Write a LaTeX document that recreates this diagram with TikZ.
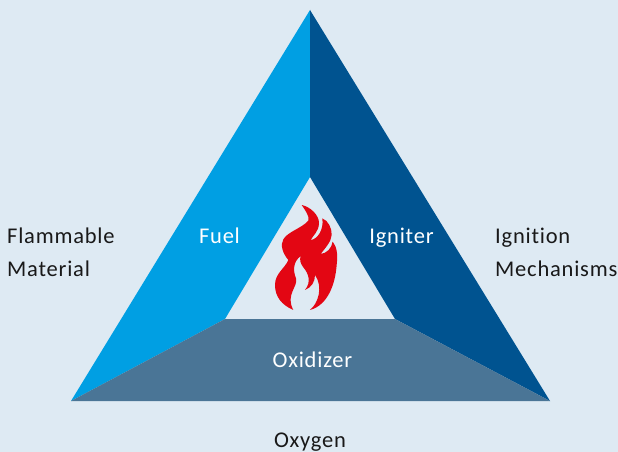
\documentclass[tikz,border=0pt]{standalone}
\usepackage{fontspec}
\setmainfont[LetterSpace=3.5,Ligatures=NoCommon]{Carlito}
\definecolor{bgc}{HTML}{DEEAF3}
\definecolor{fuelc}{HTML}{009FE3}
\definecolor{ignc}{HTML}{005390}
\definecolor{oxc}{HTML}{4A7596}
\definecolor{flamec}{HTML}{E30613}
\tikzset{lab/.style={font=\fontsize{22.5}{22.5}\selectfont,text=black!90,anchor=base west,inner sep=0pt},
wlab/.style={font=\fontsize{22.5}{22.5}\selectfont,text=white,anchor=base,inner sep=0pt}}
\begin{document}
\begin{tikzpicture}[x=1pt,y=-1pt]
\useasboundingbox (0,0) rectangle (618,452);
\fill[bgc] (0,0) rectangle (618,452);
\coordinate (T) at (310,10);
\coordinate (L) at (71,401);
\coordinate (R) at (550,401);
\coordinate (IT) at (310,177);
\coordinate (IL) at (225,319);
\coordinate (IR) at (395,319);
\fill[fuelc] (T)--(IT)--(IL)--(L)--cycle;
\fill[ignc] (T)--(R)--(IR)--(IT)--cycle;
\fill[oxc] (L)--(IL)--(IR)--(R)--cycle;
\begin{scope}[shift={(260,190)},x=0.3333pt,y=-0.3333pt]
\fill[flamec] (125,45) .. controls (150,50) and (178,75) .. (177,100)
 .. controls (176,125) and (160,135) .. (152,150)
 .. controls (172,148) and (192,120) .. (187,85)
 .. controls (205,92) and (216,115) .. (215,135)
 .. controls (214,155) and (195,175) .. (182,192)
 .. controls (200,190) and (215,175) .. (218,155)
 .. controls (230,170) and (234,190) .. (230,225)
 .. controls (226,280) and (205,345) .. (150,360)
 .. controls (175,340) and (190,290) .. (165,255)
 .. controls (165,275) and (155,292) .. (135,300)
 .. controls (155,275) and (145,250) .. (130,232)
 .. controls (122,222) and (118,210) .. (122,198)
 .. controls (100,215) and (98,240) .. (108,265)
 .. controls (115,290) and (75,315) .. (100,360)
 .. controls (65,345) and (45,320) .. (45,285)
 .. controls (45,250) and (75,235) .. (85,210)
 .. controls (68,190) and (60,165) .. (70,148)
 .. controls (83,125) and (125,115) .. (145,92)
 .. controls (150,80) and (135,60) .. (125,45) -- cycle;
\end{scope}
\node[lab] (a) at (7,243) {Flammable};
\node[lab] (b) at (7,276) {Material};
\node[lab] (c) at (495,243) {Ignition};
\node[lab] (d) at (495,276) {Mechanisms};
\node[wlab] (e) at (219.5,243) {Fuel};
\node[wlab] (f) at (401.5,243) {Igniter};
\node[wlab] (g) at (312.5,367) {Oxidizer};
\node[lab,anchor=base] (h) at (310,447) {Oxygen};
\end{tikzpicture}
\end{document}
